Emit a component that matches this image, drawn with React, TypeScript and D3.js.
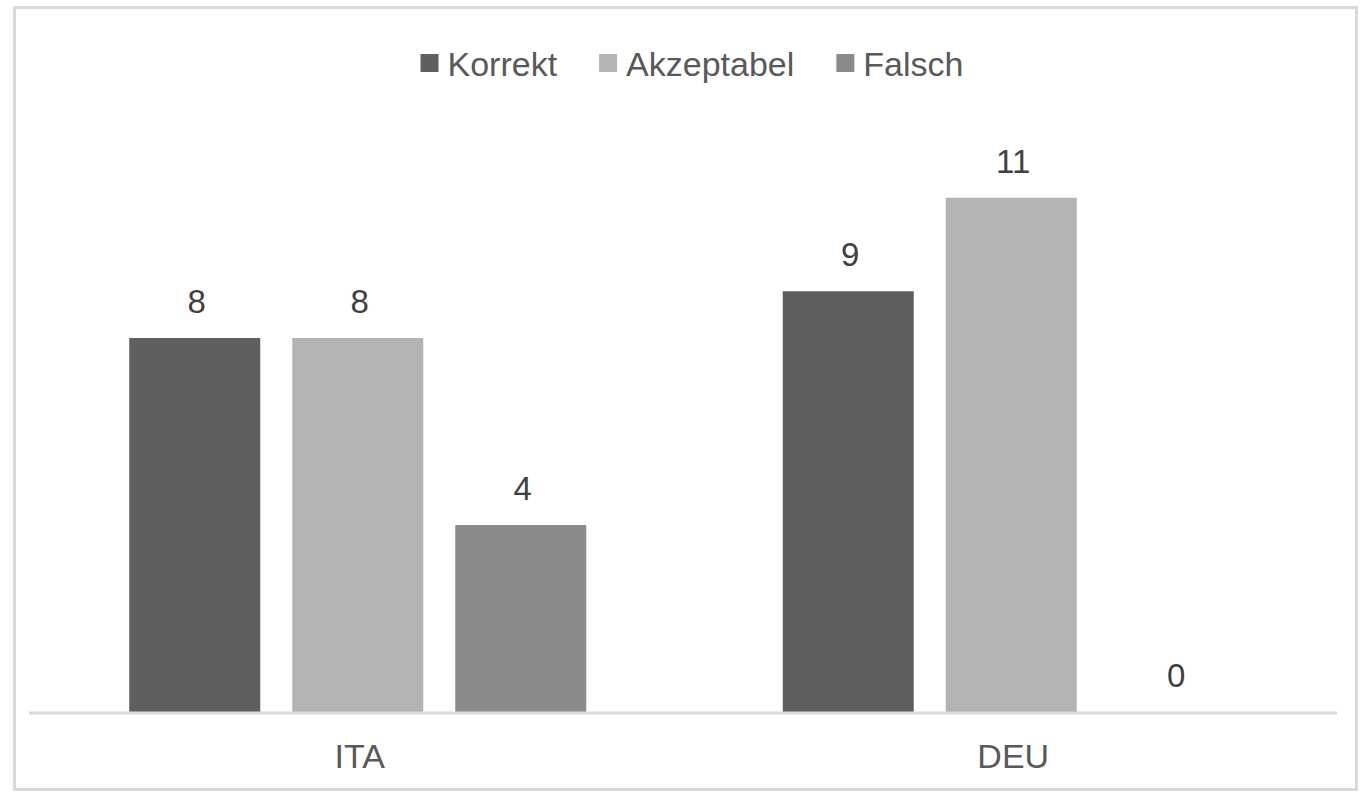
import * as d3 from "d3";
import React, { useEffect, useRef } from "react";

const categories = ["ITA", "DEU"];
const seriesNames = ["Korrekt", "Akzeptabel", "Falsch"];
const korrekt = [8, 9];
const akzeptabel = [8, 11];
const falsch = [4, 0];
const seriesColors = ["#5f5f5f", "#b3b3b3", "#8a8a8a"];

const W = 1370;
const H = 802;

const App: React.FC = () => {
  const svgRef = useRef<SVGSVGElement | null>(null);

  useEffect(() => {
    document.body.style.margin = "0";
    const values = [korrekt, akzeptabel, falsch];
    const margin = { top: 151, right: 32, bottom: 90, left: 31 };
    const font = "'Liberation Sans', Arial, sans-serif";

    const svg = d3.select(svgRef.current).html("");

    // chart border
    svg
      .append("rect")
      .attr("x", 14.5)
      .attr("y", 7.5)
      .attr("width", 1342)
      .attr("height", 782)
      .attr("fill", "#fff")
      .attr("stroke", "#d9d9d9")
      .attr("stroke-width", 3);

    const x0 = d3
      .scaleBand<string>()
      .domain(categories)
      .range([margin.left, W - margin.right]);
    const groupWidth = 457;
    const x1 = d3
      .scaleBand<string>()
      .domain(seriesNames)
      .range([-groupWidth / 2, groupWidth / 2])
      .paddingInner(32 / 163);
    const y = d3
      .scaleLinear()
      .domain([0, 12])
      .range([H - margin.bottom, margin.top]);

    const rows = categories.flatMap((c, ci) =>
      seriesNames.map((s, si) => ({ c, s, si, v: values[si][ci] }))
    );

    const g = svg.append("g");
    g.selectAll("rect.bar")
      .data(rows)
      .join("rect")
      .attr("class", "bar")
      .attr("x", (d) => x0(d.c)! + x0.bandwidth() / 2 + x1(d.s)!)
      .attr("y", (d) => y(d.v))
      .attr("width", x1.bandwidth())
      .attr("height", (d) => y(0) - y(d.v))
      .attr("fill", (d) => seriesColors[d.si]);

    // data labels
    g.selectAll("text.lbl")
      .data(rows)
      .join("text")
      .attr("class", "lbl")
      .attr("x", (d) => x0(d.c)! + x0.bandwidth() / 2 + x1(d.s)! + x1.bandwidth() / 2 + 2)
      .attr("y", (d) => y(d.v) - 25)
      .attr("text-anchor", "middle")
      .attr("font-family", font)
      .attr("font-size", 33)
      .attr("fill", "#404040")
      .text((d) => d.v);

    // category axis line
    svg
      .append("line")
      .attr("x1", 29)
      .attr("x2", 1337)
      .attr("y1", y(0) + 1)
      .attr("y2", y(0) + 1)
      .attr("stroke", "#d9d9d9")
      .attr("stroke-width", 3);

    svg
      .selectAll("text.cat")
      .data(categories)
      .join("text")
      .attr("class", "cat")
      .attr("x", (d) => x0(d)! + x0.bandwidth() / 2 + 2)
      .attr("y", 768)
      .attr("text-anchor", "middle")
      .attr("font-family", font)
      .attr("font-size", 34)
      .attr("fill", "#595959")
      .text((d) => d);

    // legend
    const legend = svg.append("g");
    const items = legend
      .selectAll("g")
      .data(seriesNames)
      .join("g");
    items
      .append("rect")
      .attr("width", 18)
      .attr("height", 18)
      .attr("y", 54)
      .attr("fill", (_d, i) => seriesColors[i]);
    const texts = items
      .append("text")
      .attr("x", 27)
      .attr("y", 76)
      .attr("font-family", font)
      .attr("font-size", 34)
      .attr("fill", "#595959")
      .text((d) => d);
    const widths = texts.nodes().map((n) => 27 + (n as SVGTextElement).getComputedTextLength());
    const gap = 42;
    const total = d3.sum(widths) + gap * (widths.length - 1);
    let cx = 692 - total / 2;
    items.each(function (_d, i) {
      d3.select(this).attr("transform", `translate(${cx},0)`);
      cx += widths[i] + gap;
    });
  }, []);

  return <svg ref={svgRef} width={W} height={H} style={{ display: "block" }} />;
};

export default App;
